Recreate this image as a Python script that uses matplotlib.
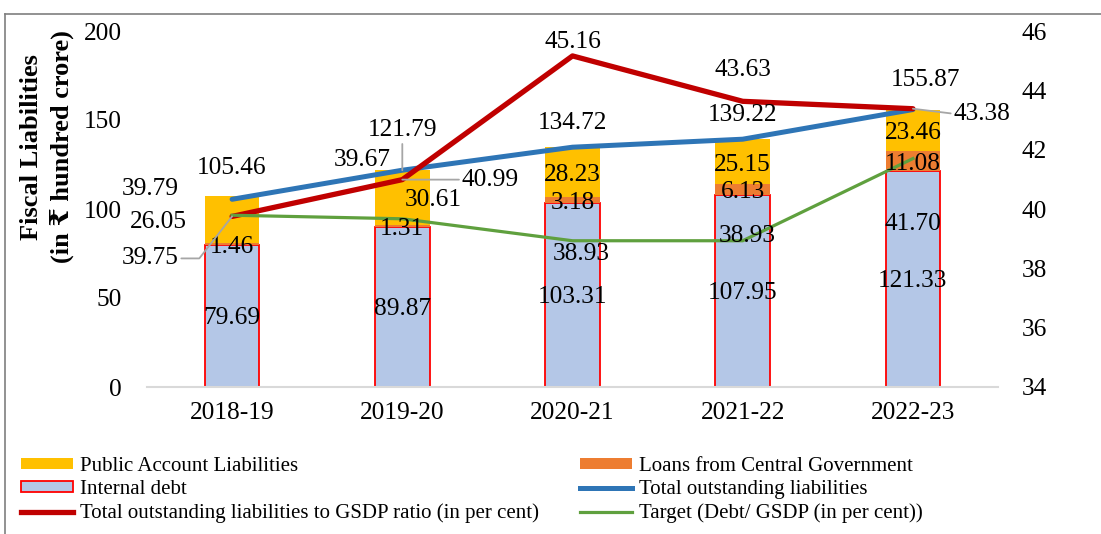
import matplotlib
matplotlib.use("Agg")
import matplotlib.pyplot as plt
from matplotlib.patches import Patch
from matplotlib.lines import Line2D
import numpy as np

plt.rcParams['font.family'] = ['Liberation Serif', 'DejaVu Serif']

years = ["2018-19", "2019-20", "2020-21", "2021-22", "2022-23"]
internal_debt = [79.69, 89.87, 103.31, 107.95, 121.33]
loans_central = [1.46, 1.31, 3.18, 6.13, 11.08]
public_account = [26.05, 30.61, 28.23, 25.15, 23.46]
total_liabilities = [105.46, 121.79, 134.72, 139.22, 155.87]
gsdp_ratio = [39.75, 40.99, 45.16, 43.63, 43.38]
target = [39.79, 39.67, 38.93, 38.93, 41.70]

C_INT = '#B4C7E7'
C_LOAN = '#ED7D31'
C_PAL = '#FFC000'
C_BLUE = '#2E75B6'
C_RED = '#C00000'
C_GREEN = '#5FA03E'
C_LEAD = '#A6A6A6'
FS = 18.3

fig = plt.figure(figsize=(11.01, 5.34), dpi=100)
ax = fig.add_axes([147/1101, 147/534, 851/1101, 356/534])
x = np.arange(len(years))
w = 0.32

b1 = ax.bar(x, internal_debt, w, color=C_INT, edgecolor='#FF0000', linewidth=1.3, zorder=2)
bottom2 = np.array(internal_debt)
b2 = ax.bar(x, loans_central, w, bottom=bottom2, color=C_LOAN, linewidth=0, zorder=2)
bottom3 = bottom2 + np.array(loans_central)
b3 = ax.bar(x, public_account, w, bottom=bottom3, color=C_PAL, linewidth=0, zorder=2)
ax.plot(x, total_liabilities, color=C_BLUE, linewidth=3.6, zorder=3, solid_capstyle='round')

ax.set_xlim(-0.5, len(years) - 0.5)
ax.set_ylim(0, 200)
ax.set_yticks([0, 50, 100, 150, 200])
ax.set_xticks(x)
ax.set_xticklabels(years, fontsize=FS)
ax.tick_params(axis='both', length=0, labelsize=FS)
ax.tick_params(axis='y', pad=18)
ax.tick_params(axis='x', pad=11)
for s in ['top', 'right', 'left']:
    ax.spines[s].set_visible(False)
ax.spines['bottom'].set_color('#D9D9D9')
ax.spines['bottom'].set_linewidth(1.5)

ax2 = ax.twinx()
ax2.set_ylim(34, 46)
ax2.set_yticks([34, 36, 38, 40, 42, 44, 46])
ax2.tick_params(axis='y', length=0, labelsize=FS, pad=17)
for s in ax2.spines.values():
    s.set_visible(False)
ax2.plot(x, gsdp_ratio, color=C_RED, linewidth=3.8, zorder=3, solid_capstyle='round')
ax2.plot(x, target, color=C_GREEN, linewidth=2.3, zorder=3)

def lab(trans, xi, yi, text, dx=0, dy=0, lead=None):
    kw = dict(xy=(xi, yi), xycoords=trans, xytext=(dx, dy), textcoords='offset pixels',
              ha='center', va='center', fontsize=FS, zorder=5, annotation_clip=False)
    if lead is not None:
        kw['arrowprops'] = dict(arrowstyle='-', color=C_LEAD, lw=1.3, shrinkA=0, shrinkB=0, **lead)
    ax2.annotate(text, **kw)

T1 = ax.transData
T2 = ax2.transData

# bar segment labels
seg_dx_pal = [-74, 31, 0, 0, 0]
for i in range(len(years)):
    lab(T1, x[i], internal_debt[i] / 2, f"{internal_debt[i]:.2f}", 0, -2)
    lab(T1, x[i], bottom2[i] + loans_central[i] / 2, f"{loans_central[i]:.2f}", 0, -3)
    lab(T1, x[i], bottom3[i] + public_account[i] / 2, f"{public_account[i]:.2f}", seg_dx_pal[i], -3)

# total liabilities labels
tot_off = [(0, 31), (0, 40), (0, 24), (0, 24), (13, 30)]
for i in range(len(years)):
    lead = None
    if i == 1:
        lead = dict(relpos=(0.5, 0.0))
    lab(T1, x[i], total_liabilities[i], f"{total_liabilities[i]:.2f}", *tot_off[i], lead=lead)

# GSDP ratio labels
red_off = [(-82, -42), (88, 0), (0, 14), (0, 31), (69, -5)]
for i in range(len(years)):
    lead = None
    if i == 0:
        lead = dict(relpos=(1.0, 0.5), connectionstyle='angle,angleA=0,angleB=52,rad=0')
    elif i == 1:
        lead = dict(relpos=(0.0, 0.5))
    elif i == 4:
        lead = dict(relpos=(0.0, 0.5))
    lab(T2, x[i], gsdp_ratio[i], f"{gsdp_ratio[i]:.2f}", *red_off[i], lead=lead)

# target labels
grn_off = [(-82, 26), (-40, 59), (9, -13), (5, 5), (0, -65)]
for i in range(len(years)):
    lab(T2, x[i], target[i], f"{target[i]:.2f}", *grn_off[i])

fig.text(32/1101, 1 - 147/534, "Fiscal Liabilities", rotation=90, ha='center', va='center',
         fontsize=19, fontweight='bold')
fig.text(62/1101, 1 - 147/534, "(in ₹ hundred crore)", rotation=90, ha='center', va='center',
         fontsize=19, fontweight='bold')

handles = [
    Patch(facecolor=C_PAL, edgecolor='none'),
    Patch(facecolor=C_INT, edgecolor='#FF0000', linewidth=1.3),
    Line2D([0], [0], color=C_RED, lw=3.8),
    Patch(facecolor=C_LOAN, edgecolor='none'),
    Line2D([0], [0], color=C_BLUE, lw=3.6),
    Line2D([0], [0], color=C_GREEN, lw=2.3),
]
labels = [
    "Public Account Liabilities",
    "Internal debt",
    "Total outstanding liabilities to GSDP ratio (in per cent)",
    "Loans from Central Government",
    "Total outstanding liabilities",
    "Target (Debt/ GSDP (in per cent))",
]
fig.legend(handles, labels, loc='upper left', bbox_to_anchor=(21/1101, 1 - 457/534), ncol=2,
           frameon=False, fontsize=15, handlelength=2.5, handleheight=0.45,
           handletextpad=0.35, labelspacing=0.2, columnspacing=1.95, borderpad=0, borderaxespad=0)

# outer frame
fig.add_artist(Line2D([5/1101, 5/1101], [0, 1 - 14/534], transform=fig.transFigure, color='#7F7F7F', lw=1.2))
fig.add_artist(Line2D([5/1101, 1], [1 - 14/534, 1 - 14/534], transform=fig.transFigure, color='#7F7F7F', lw=1.2))

fig.savefig("out.png", dpi=100)
